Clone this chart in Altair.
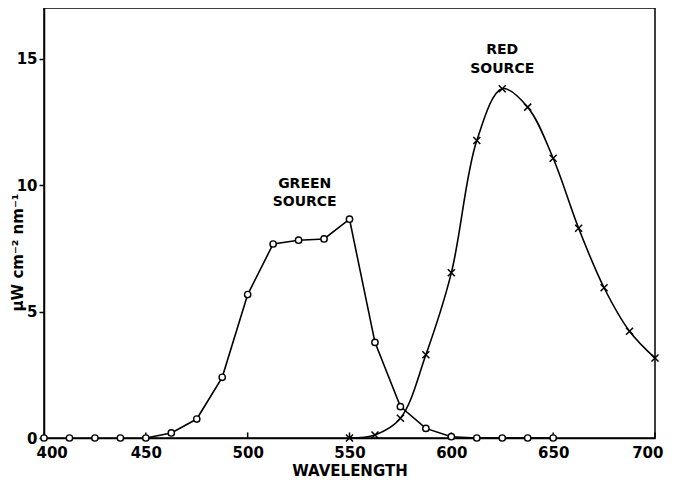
import altair as alt
import pandas as pd

green_wl = [400, 412.5, 425, 437.5, 450, 462.5, 475, 487.5, 500, 512.5, 525, 537.5,
            550, 562.5, 575, 587.5, 600, 612.5, 625, 637.5, 650]
green_val = [0, 0, 0, 0, 0, 0.2, 0.75, 2.4, 5.67, 7.67, 7.82, 7.87,
             8.65, 3.78, 1.24, 0.38, 0.05, 0, 0, 0, 0]
red_wl = [550, 562.5, 575, 587.5, 600, 612.5, 625, 637.5, 650, 662.5, 675, 687.5, 700]
red_val = [0, 0.12, 0.78, 3.29, 6.53, 11.76, 13.81, 13.08, 11.06, 8.29, 5.94, 4.22, 3.16]

label_text = ["GREEN", "SOURCE", "RED", "SOURCE"]
label_x = [528, 528, 625, 625]
label_y = [10.05, 9.35, 15.35, 14.6]

x_ticks = [400, 450, 500, 550, 600, 650, 700]
y_ticks = [0, 5, 10, 15]

green = pd.DataFrame({"wl": green_wl, "val": green_val})
red = pd.DataFrame({"wl": red_wl, "val": red_val})
labels = pd.DataFrame({"text": label_text, "x": label_x, "y": label_y})
ticks = pd.DataFrame({"wl": x_ticks})

FONT = "DejaVu Sans"

xscale = alt.Scale(domain=[400, 700], nice=False)
yscale = alt.Scale(domain=[0, 17], nice=False)

xenc = alt.X("wl:Q", scale=xscale, axis=alt.Axis(
    values=x_ticks, title="WAVELENGTH", ticks=False, grid=False,
    labelFontSize=15, labelFontWeight="bold", labelPadding=7, labelFont=FONT,
    labelColor="black", labelFlush=True, labelFlushOffset=8,
    titleFont=FONT, titleFontSize=15, titleFontWeight="bold", titleColor="black",
    titlePadding=3, domainColor="black", domainWidth=1.5))
yenc = alt.Y("val:Q", scale=yscale, axis=alt.Axis(
    values=y_ticks, title="μW cm⁻² nm⁻¹", grid=False, tickSize=5, tickColor="black",
    tickWidth=1.5, labelFontSize=15, labelFontWeight="bold", labelPadding=2,
    labelFont=FONT, labelColor="black",
    titleFont=FONT, titleFontSize=15, titleFontWeight="bold", titleColor="black",
    titleX=-27, titleY=244, titleAngle=-90, titleBaseline="middle", titleAlign="center",
    domainColor="black", domainWidth=1.5))

green_line = alt.Chart(green).transform_filter("datum.wl >= 450").mark_line(
    color="black", strokeWidth=1.6, interpolate="linear").encode(x=xenc, y=yenc)
red_line = alt.Chart(red).mark_line(
    color="black", strokeWidth=1.6, interpolate="catmull-rom").encode(x=xenc, y=yenc)

red_pts = alt.Chart(red).mark_point(
    shape="M-1,-1L1,1M-1,1L1,-1", size=49, color="black", strokeWidth=1.5,
    filled=False, opacity=1).encode(x=xenc, y=yenc)
green_pts = alt.Chart(green).mark_point(
    shape="circle", size=40, stroke="black", fill="white", strokeWidth=1.4,
    filled=True, opacity=1).encode(x=xenc, y=yenc)

tick_rules = alt.Chart(ticks).mark_rule(color="black", strokeWidth=1.5).encode(
    x=alt.X("wl:Q", scale=xscale), y=alt.datum(0), y2=alt.datum(0.22))

text = alt.Chart(labels).mark_text(
    font=FONT, fontSize=14, fontWeight="bold", color="black", align="center",
    baseline="middle").encode(
    x=alt.X("x:Q", scale=xscale), y=alt.Y("y:Q", scale=yscale), text="text:N")

chart = alt.layer(tick_rules, green_line, red_line, red_pts, green_pts, text).properties(
    width=611, height=430,
    autosize=alt.AutoSizeParams(type="none"),
    padding={"left": 36, "top": 0, "right": 10, "bottom": 46},
    background="white",
).configure_view(stroke="black", strokeWidth=1.5)

chart.save("out.html", embed_options={"renderer": "svg", "actions": False})
